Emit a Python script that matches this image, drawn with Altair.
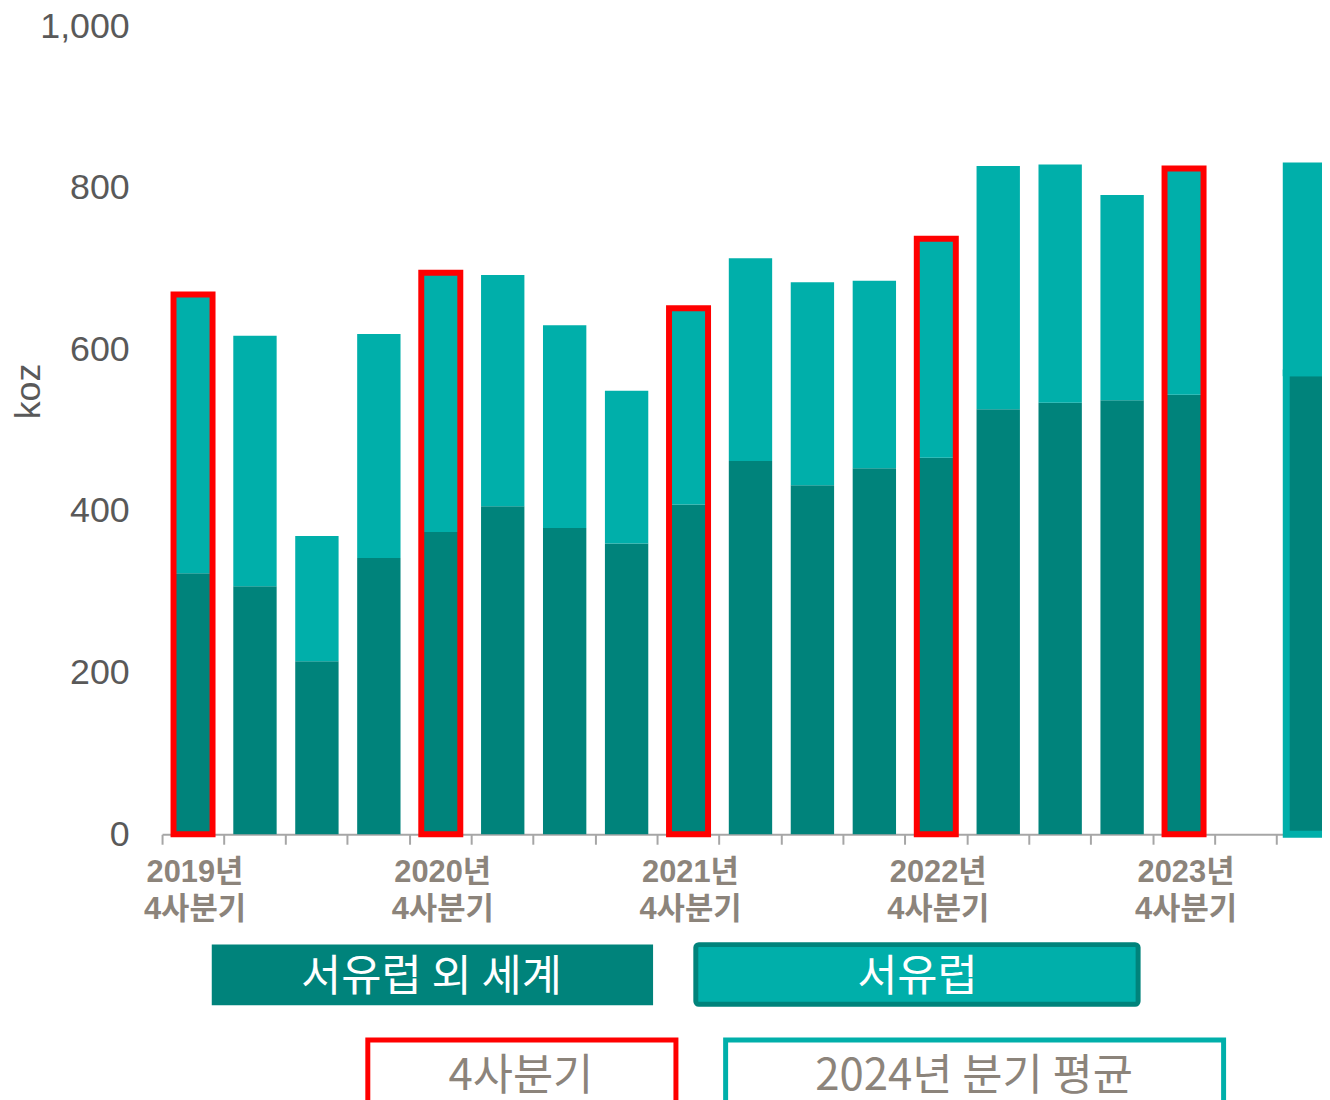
import altair as alt
import pandas as pd

# ---- data (koz) ----
categories = ["2019년\n4사분기", "2020Q1", "2020Q2", "2020Q3", "2020년\n4사분기",
              "2021Q1", "2021Q2", "2021Q3", "2021년\n4사분기",
              "2022Q1", "2022Q2", "2022Q3", "2022년\n4사분기",
              "2023Q1", "2023Q2", "2023Q3", "2023년\n4사분기", "2024avg"]
rest_of_world = [323, 307, 214, 342, 374, 406, 379, 360, 408, 462, 432, 453, 466,
                 526, 534, 537, 544, 571]
western_europe = [345, 310, 155, 277, 321, 286, 251, 189, 243, 251, 251, 232, 271,
                  301, 295, 254, 280, 256]
q4_flags = [True, False, False, False, True, False, False, False, True,
            False, False, False, True, False, False, False, True, False]
avg_flags = [False] * 17 + [True]
x_domain = categories[:17] + ["gap"] + categories[17:]
y_ticks = [0, 200, 400, 600, 800, 1000]
legend_labels = ["서유럽 외 세계", "서유럽", "4사분기", "2024년 분기 평균"]

df = pd.DataFrame({"cat": categories, "row": rest_of_world, "we": western_europe,
                   "q4": q4_flags, "avg": avg_flags})
df["total"] = df["row"] + df["we"]

DARK = "#00837B"
LIGHT = "#00AFAA"
RED = "#FF0000"
GREY = "#8C847B"
AXGREY = "#595959"
FONT = "Liberation Sans, Noto Sans CJK KR, sans-serif"
KFONT = "Noto Sans CJK KR, Liberation Sans, sans-serif"

x_axis = alt.Axis(
    title=None, labelAngle=0, bandPosition=0, labelOffset=2,
    labelExpr="indexof(datum.label, '4사분기') >= 0 ? split(datum.label, '\\n') : ''",
    tickSize=10, tickWidth=2, tickColor="#A6A6A6", domainColor="#A6A6A6", domainWidth=2,
    labelFont=FONT, labelFontSize=31, labelFontWeight="bold", labelColor=GREY,
    labelLineHeight=38, labelPadding=13, labelBaseline="top", labelOverlap=False,
    labelBound=False, grid=False)
x_enc = alt.X("cat:N", sort=x_domain,
              scale=alt.Scale(domain=x_domain, range=[0, 1184], paddingInner=0, paddingOuter=0),
              axis=x_axis)
y_axis = alt.Axis(values=y_ticks, format=",d", labelFont=FONT, labelFontSize=36,
                  labelColor=AXGREY, domain=False, ticks=False, tickSize=0, grid=False,
                  labelPadding=33, title="koz", titleFont=FONT, titleFontSize=36,
                  titleColor=AXGREY, titleFontWeight="normal", titleX=-134, titleY=367,
                  titleAngle=-90, titleAlign="center", titleBaseline="middle")
y_scale = alt.Scale(domain=[0, 1000])

base = alt.Chart(df)
sw = alt.condition("datum.avg", alt.value(7), alt.value(0))

dark_bars = base.mark_bar(color=DARK, stroke=LIGHT, width=alt.RelativeBandSize(0.7)).encode(
    x=x_enc, y=alt.Y("row:Q", scale=y_scale, axis=y_axis), strokeWidth=sw)
light_bars = base.mark_bar(color=LIGHT, stroke=LIGHT, width=alt.RelativeBandSize(0.7)).encode(
    x=x_enc, y=alt.Y("total:Q", scale=y_scale), y2="row:Q", strokeWidth=sw)
red_boxes = base.transform_filter("datum.q4").mark_bar(
    filled=False, color=RED, stroke=RED, strokeWidth=6, width=alt.RelativeBandSize(0.63)).encode(
    x=x_enc, y=alt.Y("total:Q", scale=y_scale))


def legend_item(label, x1, x2, y1, y2, fill, stroke, sw_, txt_color, tx, ty, radius=0):
    d = alt.Chart(pd.DataFrame({"label": [label]}))
    box = d.mark_rect(fill=fill, stroke=stroke, strokeWidth=sw_, cornerRadius=radius).encode(
        x=alt.value(x1), x2=alt.value(x2), y=alt.value(y1), y2=alt.value(y2))
    txt = d.mark_text(font=KFONT, fontSize=44, color=txt_color, align="center",
                      baseline="middle").encode(
        x=alt.value(tx), y=alt.value(ty), text="label:N")
    return [box, txt]


legend_layers = []
legend_layers += legend_item(legend_labels[0], 50, 494, 924, 985, DARK, DARK, 0, "white", 271, 958)
legend_layers += legend_item(legend_labels[1], 537, 982, 924, 984, LIGHT, DARK, 5, "white", 760, 958, 3)
legend_layers += legend_item(legend_labels[2], 207, 517, 1020, 1120, "white", RED, 5, GREY, 361, 1057)
legend_layers += legend_item(legend_labels[3], 567, 1068, 1020, 1120, "white", LIGHT, 5, GREY, 817, 1057)

chart = alt.layer(dark_bars, light_bars, red_boxes, *legend_layers).properties(
    width=1167, height=813,
    autosize=alt.AutoSizeParams(type="none"),
    padding={"left": 155, "top": 15, "right": 0, "bottom": 264},
).configure_view(stroke=None)

chart.save("out.html", embed_options={"renderer": "svg", "actions": False})
